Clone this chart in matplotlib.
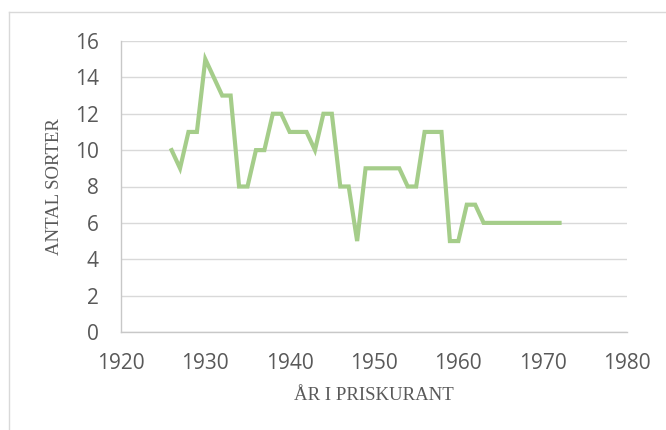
import matplotlib
matplotlib.use("Agg")
import matplotlib.pyplot as plt
from matplotlib.lines import Line2D

years = [1926, 1927, 1928, 1929, 1930, 1931, 1932, 1933, 1934, 1935, 1936, 1937,
         1938, 1939, 1940, 1941, 1942, 1943, 1944, 1945, 1946, 1947, 1948, 1949,
         1950, 1951, 1952, 1953, 1954, 1955, 1956, 1957, 1958, 1959, 1960, 1961,
         1962, 1963, 1964, 1965, 1966, 1967, 1968, 1969, 1970, 1971, 1972]
antal = [10, 9, 11, 11, 15, 14, 13, 13, 8, 8, 10, 10,
         12, 12, 11, 11, 11, 10, 12, 12, 8, 8, 5, 9,
         9, 9, 9, 9, 8, 8, 11, 11, 11, 5, 5, 7,
         7, 6, 6, 6, 6, 6, 6, 6, 6, 6, 6]
xticks = [1920, 1930, 1940, 1950, 1960, 1970, 1980]
yticks = [0, 2, 4, 6, 8, 10, 12, 14, 16]

W, H = 666, 430
fig = plt.figure(figsize=(W / 100, H / 100), dpi=100)
ax = fig.add_axes([121 / W, (H - 332) / H, 506 / W, 291 / H])

ax.plot(years, antal, color="#a5cd8a", lw=3.0, solid_joinstyle="miter", zorder=3)
ax.set_xlim(1920, 1980)
ax.set_ylim(0, 16)
ax.set_xticks(xticks)
ax.set_yticks(yticks)
ax.yaxis.grid(True, color="#d9d9d9", lw=1.0)
ax.set_axisbelow(True)
for s in ["top", "right"]:
    ax.spines[s].set_visible(False)
for s in ["left", "bottom"]:
    ax.spines[s].set_color("#c8c8c8")
    ax.spines[s].set_linewidth(1.0)
ax.tick_params(length=0, labelsize=15, labelcolor="#595959")
ax.tick_params(axis="y", pad=16)
ax.tick_params(axis="x", pad=15)
for lab in ax.get_xticklabels() + ax.get_yticklabels():
    lab.set_family("Open Sans")

xl = ax.set_xlabel("ÅR I PRISKURANT", family="Liberation Serif", fontsize=13.5,
                   color="#595959")
yl = ax.set_ylabel("ANTAL SORTER", family="Liberation Serif", fontsize=13.5,
                   color="#595959")
ax.xaxis.set_label_coords(0.5, -(395 - 332) / 291)
ax.yaxis.set_label_coords(-(121 - 54) / 506, 0.5)
xl.set_va("center")
yl.set_va("center")

# chart border (top and left visible)
fig.add_artist(Line2D([9 / W, 1], [1 - 12 / H, 1 - 12 / H], color="#d9d9d9", lw=1.0,
                      transform=fig.transFigure))
fig.add_artist(Line2D([9 / W, 9 / W], [0, 1 - 12 / H], color="#d9d9d9", lw=1.0,
                      transform=fig.transFigure))

fig.savefig("out.png", dpi=100)
